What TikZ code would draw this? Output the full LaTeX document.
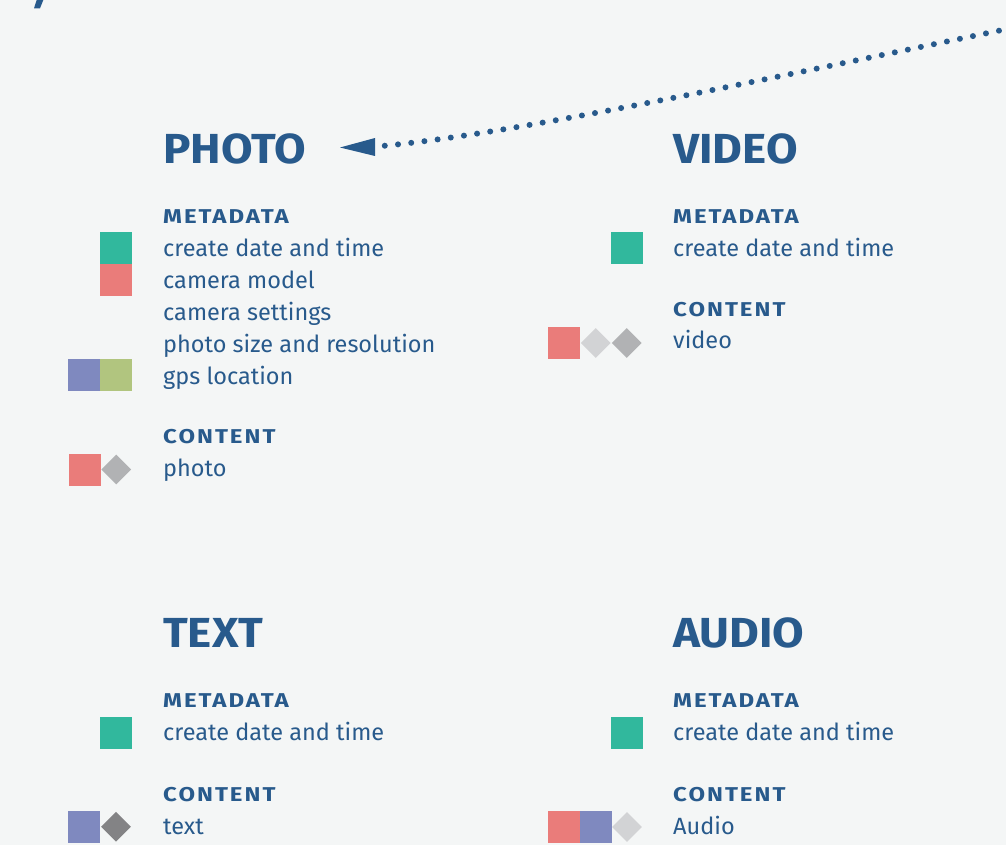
\documentclass[tikz,border=0pt]{standalone}
\usepackage{fontspec}
\setmainfont{Fira Sans}
\newfontfamily\capfont[LetterSpace=10,FakeStretch=1.2]{Fira Sans}
\newfontfamily\ttlfont[FakeStretch=1.09]{Fira Sans}
\usetikzlibrary{shapes.geometric}
\definecolor{bg}{HTML}{F4F6F6}
\definecolor{ink}{HTML}{285A8C}
\definecolor{teal}{HTML}{31B89D}
\definecolor{salmon}{HTML}{EA7C7A}
\definecolor{violet}{HTML}{7F89BF}
\definecolor{olive}{HTML}{B1C57F}
\definecolor{lgray}{HTML}{D2D3D5}
\definecolor{mgray}{HTML}{B1B2B4}
\definecolor{dgray}{HTML}{838385}
\begin{document}
\begin{tikzpicture}[x=1pt,y=-1pt,
  ttl/.style={anchor=base west,inner sep=0pt,text=ink,font=\fontsize{42}{42}\selectfont\ttlfont\bfseries},
  capl/.style={anchor=base west,inner sep=0pt,text=ink,font=\fontsize{20}{20}\selectfont\capfont\bfseries},
  bodyt/.style={anchor=base west,inner sep=0pt,text=ink,font=\fontsize{23.5}{23.5}\selectfont},
  sq/.style={rectangle,minimum size=32pt,inner sep=0pt,draw=none},
  dia/.style={diamond,minimum size=30pt,inner sep=0pt,draw=none,aspect=1},
  dotline/.style={ink,line width=6pt,line cap=round,dash pattern=on 0pt off 13.3pt}]
\fill[bg] (0,0) rectangle (1006,845);
\useasboundingbox (0,0) rectangle (1006,845);
% fragment top-left
\fill[ink] (34,8.3) -- (36.7,0) -- (43.3,0) -- (40,8.3) -- cycle;
% arrow
\coordinate (src) at (1012,28);
\coordinate (tip) at (340,147.5);
\coordinate (tail) at (382,146);
\draw[dotline] (src) .. controls (760,80) and (520,133) .. (tail);
\fill[ink] (tip) -- (375,138) -- (375,156) -- cycle;
% PHOTO
\node[ttl] (tphoto) at (163,163.5) {PHOTO};
\node[capl] (pm) at (163,223.5) {METADATA};
\node[bodyt] (p1) at (163,256) {create date and time};
\node[bodyt] (p2) at (163,288) {camera model};
\node[bodyt] (p3) at (163,320) {camera settings};
\node[bodyt] (p4) at (163,352) {photo size and resolution};
\node[bodyt] (p5) at (163,384) {gps location};
\node[capl] (pc) at (163,443.5) {CONTENT};
\node[bodyt] (p6) at (163,476.5) {photo};
\node[sq,fill=teal] (ps1) at (116,248) {};
\node[sq,fill=salmon] (ps2) at (116,280) {};
\node[sq,fill=violet] (ps3) at (84,375) {};
\node[sq,fill=olive] (ps4) at (116,375) {};
\node[sq,fill=salmon] (ps5) at (85,470) {};
\node[dia,fill=mgray] (pd1) at (116.3,469.5) {};
% VIDEO
\node[ttl] (tvideo) at (673,163.5) {VIDEO};
\node[capl] (vm) at (673,223.5) {METADATA};
\node[bodyt] (v1) at (673,256) {create date and time};
\node[capl] (vc) at (673,316.7) {CONTENT};
\node[bodyt] (v2) at (673,348) {video};
\node[sq,fill=teal] (vs1) at (627,248) {};
\node[sq,fill=salmon] (vs2) at (564,343) {};
\node[dia,fill=lgray] (vd1) at (595.7,343) {};
\node[dia,fill=mgray] (vd2) at (626.7,343) {};
% TEXT
\node[ttl] (ttext) at (163,647) {TEXT};
\node[capl] (tm) at (163,707.3) {METADATA};
\node[bodyt] (t1) at (163,740) {create date and time};
\node[capl] (tc) at (163,801) {CONTENT};
\node[bodyt] (t2) at (163,834) {text};
\node[sq,fill=teal] (ts1) at (116,733) {};
\node[sq,fill=violet] (ts2) at (84,827) {};
\node[dia,fill=dgray] (td1) at (116,826.7) {};
% AUDIO
\node[ttl] (taudio) at (673,647) {AUDIO};
\node[capl] (am) at (673,707.3) {METADATA};
\node[bodyt] (a1) at (673,740) {create date and time};
\node[capl] (ac) at (673,801) {CONTENT};
\node[bodyt] (a2) at (673,834) {Audio};
\node[sq,fill=teal] (as1) at (627,733) {};
\node[sq,fill=salmon] (as2) at (564,827) {};
\node[sq,fill=violet] (as3) at (596,827) {};
\node[dia,fill=lgray] (ad1) at (627,827) {};
\end{tikzpicture}
\end{document}
